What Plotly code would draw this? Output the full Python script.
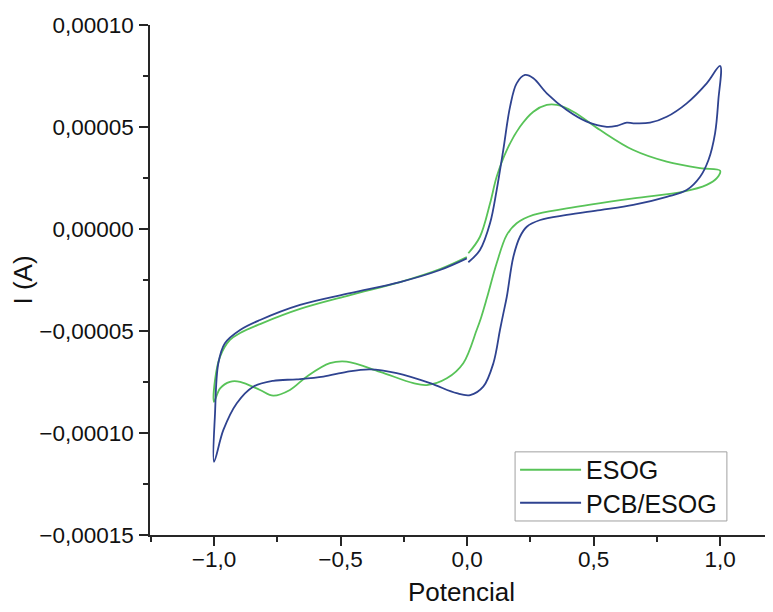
import plotly.graph_objects as go

# ---- data (potential in V, current in units of 1e-5 A) ----
esog_potential = [0.005, 0.051, 0.091, 0.117, 0.157, 0.209, 0.262, 0.315, 0.355, 0.420, 0.526, 0.657, 0.789, 0.921, 1.0,
                  0.987, 0.947, 0.855, 0.657, 0.394, 0.262, 0.196, 0.157, 0.117, 0.078, 0.055, 0.038, -0.015, -0.080,
                  -0.159, -0.212, -0.344, -0.476, -0.542, -0.634, -0.700, -0.766, -0.818, -0.897, -0.937, -0.976, -1.0,
                  -0.996, -0.976, -0.937, -0.897, -0.818, -0.660, -0.462, -0.265, -0.107, -0.001]
esog_current_e5 = [-1.19, -0.38, 1.26, 2.56, 3.87, 5.01, 5.75, 6.08, 6.08, 5.75, 4.85, 3.87, 3.30, 2.98, 2.86,
                   2.49, 2.16, 1.83, 1.50, 1.01, 0.69, 0.28, -0.29, -1.68, -3.40, -4.36, -4.95, -6.58, -7.32,
                   -7.65, -7.56, -7.00, -6.50, -6.58, -7.24, -7.89, -8.17, -7.89, -7.49, -7.49, -7.81, -8.47,
                   -7.40, -6.26, -5.44, -5.10, -4.66, -3.92, -3.24, -2.60, -1.96, -1.37]

pcb_potential = [0.005, 0.051, 0.091, 0.117, 0.143, 0.170, 0.196, 0.229, 0.262, 0.315, 0.394, 0.473, 0.552, 0.592,
                 0.631, 0.657, 0.723, 0.789, 0.868, 0.947, 1.0,
                 0.993, 0.980, 0.954, 0.921, 0.868, 0.789, 0.657, 0.526, 0.394, 0.289, 0.236, 0.209, 0.183, 0.157,
                 0.142, 0.130, 0.104, 0.064, 0.012, -0.041, -0.146, -0.278, -0.383, -0.476, -0.568, -0.673, -0.766,
                 -0.845, -0.910, -0.963, -1.0,
                 -0.996, -0.983, -0.957, -0.897, -0.818, -0.660, -0.462, -0.265, -0.107, -0.001]
pcb_current_e5 = [-1.63, -1.03, 0.29, 1.91, 3.87, 6.00, 7.14, 7.55, 7.39, 6.65, 5.83, 5.26, 5.01, 5.06,
                  5.21, 5.18, 5.21, 5.50, 6.16, 7.14, 7.99,
                  6.32, 4.69, 3.38, 2.56, 1.91, 1.58, 1.18, 0.93, 0.69, 0.44, 0.11, -0.38, -1.36, -3.32,
                  -4.22, -4.95, -6.58, -7.73, -8.14, -8.05, -7.56, -7.07, -6.88, -7.00, -7.24, -7.37, -7.44,
                  -7.73, -8.54, -9.85, -11.41,
                  -9.03, -6.58, -5.60, -4.95, -4.46, -3.72, -3.14, -2.60, -2.01, -1.44]

series_names = ["ESOG", "PCB/ESOG"]
series_colors = ["#58c358", "#2f4390"]

x_tick_values = [-1.0, -0.5, 0.0, 0.5, 1.0]
y_tick_values = [0.00010, 0.00005, 0.0, -0.00005, -0.00010, -0.00015]

UNIT = 1e-5
FONT = "Arial, Liberation Sans, sans-serif"
AXIS_COLOR = "#262626"

fig = go.Figure()
for name, color, xs, ys, leg in [
    (series_names[0], series_colors[0], esog_potential, esog_current_e5, "legend"),
    (series_names[1], series_colors[1], pcb_potential, pcb_current_e5, "legend2"),
]:
    fig.add_trace(go.Scatter(
        x=xs, y=[v * UNIT for v in ys], mode="lines", name=name, legend=leg,
        line=dict(color=color, width=1.8, shape="spline", smoothing=1.0),
    ))

axis_common = dict(
    showline=True, linecolor=AXIS_COLOR, linewidth=1.5, mirror=False,
    showgrid=False, zeroline=False,
    ticks="outside", ticklen=9, tickwidth=1.5, tickcolor=AXIS_COLOR,
    tickfont=dict(family=FONT, size=22.5, color="#111111"),
)

legend_common = dict(
    xanchor="left", yanchor="middle", x=0.586,
    bgcolor="rgba(0,0,0,0)", borderwidth=0,
    font=dict(family=FONT, size=25, color="#111111"),
    itemwidth=61,
)

fig.update_layout(
    width=765, height=604,
    margin=dict(l=142, r=0, t=17, b=77),
    paper_bgcolor="white", plot_bgcolor="white",
    separators=",.",
    font=dict(family=FONT, color="#111111"),
    xaxis=dict(
        range=[-1.253, 1.209], tickvals=x_tick_values, tickformat=".1f",
        minor=dict(dtick=0.25, tick0=0, ticks="outside", ticklen=5, tickwidth=1.5, tickcolor=AXIS_COLOR),
        title=dict(text="Potencial", font=dict(family=FONT, size=26, color="#111111"), standoff=12),
        ticklabelstandoff=-6,
        **axis_common,
    ),
    yaxis=dict(
        range=[-0.00015, 0.00010], tickvals=y_tick_values, tickformat=".5f",
        minor=dict(dtick=0.000025, tick0=0, ticks="outside", ticklen=5, tickwidth=1.5, tickcolor=AXIS_COLOR),
        title=dict(text="I (A)", font=dict(family=FONT, size=26, color="#111111"), standoff=0),
        ticklabelstandoff=1,
        **axis_common,
    ),
    legend=dict(y=0.1275, **legend_common),
    legend2=dict(y=0.0627, **legend_common),
    shapes=[dict(
        type="rect", xref="paper", yref="paper",
        x0=0.586, x1=0.926, y0=0.0275, y1=0.163,
        line=dict(color="#a0a0a0", width=1), fillcolor="white", layer="above",
    )],
    showlegend=True,
)

fig.write_html("out.html")
